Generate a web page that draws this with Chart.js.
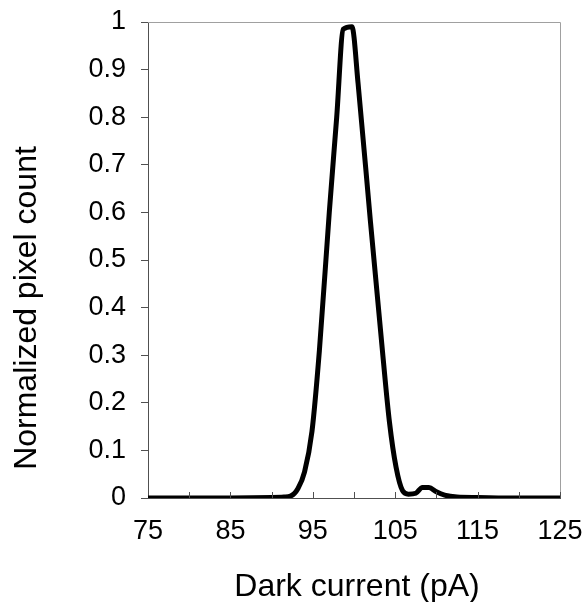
<!DOCTYPE html>
<html>
<head>
<meta charset="utf-8">
<script src="https://cdn.jsdelivr.net/npm/chart.js@4"></script>
<style>
  html, body { margin: 0; padding: 0; background: #fff; }
  #wrap { width: 585px; height: 602px; }
</style>
</head>
<body>
<div id="wrap"><canvas id="chart" width="585" height="602"></canvas></div>
<script>
// dark current (pA) and normalized pixel count
const darkCurrent = [75, 80, 85, 90, 91.5, 92.3, 93.2, 94.0, 94.9, 95.8, 97.0, 97.9, 98.7, 99.75,
    100.5, 102.0, 103.5, 104.3, 105.1, 105.9, 106.6, 107.5, 108.3, 109.1, 110.0, 111.0, 112.5, 115, 120, 125];
const pixelCount = [0, 0, 0, 0.001, 0.002, 0.004, 0.02, 0.055, 0.14, 0.31, 0.6, 0.8, 0.985, 0.99,
    0.87, 0.58, 0.3, 0.16, 0.065, 0.015, 0.008, 0.01, 0.022, 0.022, 0.013, 0.006, 0.002, 0.001, 0, 0];
const xLabels = [75, 85, 95, 105, 115, 125];

const FONT = 'Liberation Sans, Arial, sans-serif';

// frame, inward x ticks and axis titles
const extras = {
    id: 'extras',
    afterDraw(chart) {
        const { ctx, chartArea: a, scales } = chart;
        ctx.save();
        ctx.strokeStyle = '#a0a0a0';
        ctx.lineWidth = 1;
        ctx.beginPath();
        ctx.moveTo(a.left, a.top + 0.5);
        ctx.lineTo(a.right + 0.5, a.top + 0.5);
        ctx.lineTo(a.right + 0.5, a.bottom);
        ctx.stroke();

        ctx.strokeStyle = '#505050';
        ctx.beginPath();
        for (let v = 80; v <= 125; v += 5) {
            const px = Math.round(scales.x.getPixelForValue(v)) + 0.5;
            ctx.moveTo(px, a.bottom);
            ctx.lineTo(px, a.bottom - 6);
        }
        ctx.stroke();

        ctx.fillStyle = '#000';
        ctx.font = '32px ' + FONT;
        ctx.textAlign = 'center';
        ctx.textBaseline = 'alphabetic';
        ctx.fillText('Dark current (pA)', (a.left + a.right) / 2 + 3, 596);

        ctx.translate(36, 308);
        ctx.rotate(-Math.PI / 2);
        ctx.fillText('Normalized pixel count', 0, 0);
        ctx.restore();
    }
};

new Chart(document.getElementById('chart'), {
    type: 'line',
    data: {
        datasets: [{
            data: darkCurrent.map((x, i) => ({ x: x, y: pixelCount[i] })),
            borderColor: '#000',
            borderWidth: 5,
            pointRadius: 0,
            cubicInterpolationMode: 'monotone',
            borderJoinStyle: 'round',
            borderCapStyle: 'round',
            fill: false
        }]
    },
    options: {
        responsive: false,
        animation: false,
        layout: { padding: { top: 22, right: 25, left: 0, bottom: 0 } },
        plugins: { legend: { display: false }, tooltip: { enabled: false } },
        scales: {
            x: {
                type: 'linear',
                min: 75,
                max: 125,
                afterFit: s => { s.height = 104; s.paddingLeft = 0; s.paddingRight = 0; },
                afterBuildTicks: s => { s.ticks = xLabels.map(v => ({ value: v })); },
                ticks: {
                    color: '#000',
                    font: { family: FONT, size: 27 },
                    padding: 17,
                    maxRotation: 0,
                    autoSkip: false
                },
                grid: { display: false, drawTicks: false },
                border: { display: true, color: '#505050', width: 1 }
            },
            y: {
                min: 0,
                max: 1,
                afterFit: s => { s.width = 148; s.paddingTop = 0; s.paddingBottom = 0; },
                ticks: {
                    stepSize: 0.1,
                    color: '#000',
                    font: { family: FONT, size: 27 },
                    padding: 15,
                    callback: v => String(Number(v.toFixed(1)))
                },
                grid: { drawOnChartArea: false, drawTicks: true, tickLength: 7, color: '#505050' },
                border: { display: true, color: '#505050', width: 1 }
            }
        }
    },
    plugins: [extras]
});
</script>
</body>
</html>
